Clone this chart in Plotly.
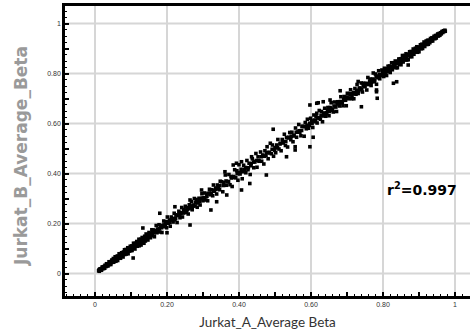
import plotly.graph_objects as go

# ---- data (Jurkat_A vs Jurkat_B average beta) ----
seg_low = [(0.010,0.011),(0.012,0.009),(0.013,0.018),(0.015,0.014),(0.016,0.019),(0.018,0.013),(0.019,0.019),(0.020,0.026),(0.022,0.020),(0.023,0.027),(0.024,0.020),(0.026,0.028),(0.027,0.021),(0.028,0.033),(0.030,0.030),(0.031,0.028),(0.032,0.039),(0.034,0.032),(0.035,0.038),(0.036,0.030),(0.038,0.039),(0.039,0.047),(0.040,0.036),(0.042,0.046),(0.043,0.042),(0.044,0.036),(0.046,0.049),(0.047,0.054),(0.048,0.045),(0.050,0.050),(0.051,0.060),(0.052,0.045),(0.054,0.059),(0.055,0.053),(0.056,0.067),(0.058,0.049),(0.059,0.061),(0.060,0.055),(0.062,0.070),(0.063,0.052),(0.064,0.068),(0.066,0.065),(0.067,0.079),(0.068,0.062),(0.070,0.076),(0.071,0.061),(0.072,0.073),(0.074,0.083),(0.075,0.071),(0.076,0.079),(0.078,0.066),(0.079,0.086),(0.080,0.078),(0.082,0.095),(0.083,0.076),(0.084,0.084),(0.086,0.096),(0.087,0.078),(0.088,0.092),(0.090,0.087),(0.091,0.103),(0.092,0.079),(0.094,0.100),(0.095,0.090),(0.096,0.098),(0.098,0.109),(0.099,0.091),(0.100,0.100),(0.102,0.110),(0.103,0.092),(0.104,0.109),(0.106,0.104),(0.106,0.062),(0.107,0.121),(0.108,0.102),(0.110,0.113),(0.111,0.098),(0.112,0.121),(0.114,0.110),(0.115,0.116),(0.116,0.128),(0.118,0.109),(0.119,0.125),(0.120,0.119),(0.122,0.137),(0.123,0.111),(0.124,0.128),(0.126,0.120),(0.127,0.137),(0.128,0.114),(0.130,0.132),(0.131,0.144),(0.132,0.124),(0.134,0.141),(0.133,0.182),(0.135,0.132),(0.136,0.121),(0.138,0.149),(0.139,0.139),(0.140,0.130),(0.142,0.158),(0.143,0.148),(0.144,0.137),(0.146,0.155),(0.147,0.134),(0.148,0.150),(0.150,0.164),(0.151,0.146),(0.152,0.160),(0.154,0.143),(0.155,0.159),(0.156,0.154),(0.158,0.175),(0.159,0.151),(0.160,0.166),
           (0.011,0.014),(0.017,0.016),(0.021,0.023),(0.025,0.024),(0.029,0.031),(0.033,0.034),(0.037,0.036),(0.041,0.043),(0.045,0.044),(0.049,0.052),(0.053,0.054),(0.057,0.056),(0.061,0.063),(0.065,0.064),(0.069,0.071),(0.073,0.074),(0.077,0.076),(0.081,0.083),(0.085,0.086),(0.089,0.089),(0.093,0.095),(0.097,0.096),(0.101,0.104),(0.105,0.105),(0.109,0.108),(0.113,0.116),(0.117,0.117),(0.121,0.124),(0.125,0.125),(0.129,0.127),(0.133,0.136),(0.137,0.138),(0.141,0.143),(0.145,0.144),(0.149,0.152),(0.153,0.153),(0.157,0.160)]

seg_lowmid = [(0.162,0.174),(0.165,0.147),(0.167,0.172),(0.170,0.192),(0.172,0.163),(0.175,0.174),(0.178,0.195),(0.180,0.166),(0.180,0.241),(0.183,0.191),(0.186,0.164),(0.188,0.191),(0.191,0.210),(0.193,0.187),(0.196,0.207),(0.199,0.183),(0.200,0.163),(0.201,0.226),(0.204,0.201),(0.207,0.214),(0.209,0.189),(0.212,0.226),(0.214,0.214),(0.217,0.206),(0.220,0.241),(0.222,0.267),(0.222,0.215),(0.225,0.234),(0.228,0.204),(0.230,0.234),(0.233,0.249),(0.236,0.223),(0.238,0.240),(0.241,0.264),(0.243,0.226),(0.246,0.256),(0.249,0.244),(0.251,0.269),(0.254,0.244),(0.257,0.263),(0.259,0.238),(0.262,0.275),(0.264,0.194),(0.264,0.294),(0.265,0.263),(0.268,0.288),(0.270,0.255),(0.273,0.274),(0.276,0.300),(0.278,0.270),(0.281,0.296),(0.284,0.265),(0.286,0.282),(0.289,0.301),(0.292,0.274),(0.294,0.299),(0.296,0.334),(0.297,0.319),(0.300,0.291),(0.302,0.301),(0.305,0.322),(0.308,0.294),(0.310,0.318),(0.313,0.291),(0.316,0.319),(0.318,0.337),(0.321,0.315),(0.322,0.254),(0.324,0.335),(0.327,0.311),(0.329,0.354),(0.332,0.329),(0.335,0.342),(0.338,0.287),(0.338,0.318),(0.340,0.354),(0.343,0.343),(0.346,0.335),(0.348,0.369),
              (0.164,0.162),(0.169,0.171),(0.174,0.178),(0.179,0.180),(0.185,0.183),(0.190,0.194),(0.195,0.196),(0.203,0.207),(0.208,0.205),(0.213,0.218),(0.219,0.220),(0.224,0.221),(0.229,0.232),(0.235,0.236),(0.240,0.243),(0.245,0.242),(0.250,0.254),(0.256,0.255),(0.261,0.259),(0.267,0.270),(0.272,0.269),(0.279,0.283),(0.285,0.286),(0.291,0.289),(0.298,0.302),(0.304,0.303),(0.311,0.309),(0.317,0.322),(0.323,0.321),(0.330,0.333),(0.336,0.337),(0.342,0.340),(0.347,0.351)]

seg_mid = [(0.352,0.367),(0.355,0.327),(0.358,0.364),(0.361,0.407),(0.362,0.394),(0.365,0.353),(0.366,0.314),(0.369,0.367),(0.372,0.396),(0.375,0.355),(0.378,0.388),(0.381,0.348),(0.384,0.434),(0.385,0.388),(0.388,0.415),(0.391,0.383),(0.393,0.441),(0.394,0.411),(0.397,0.373),(0.400,0.435),(0.403,0.398),(0.406,0.417),(0.407,0.447),(0.407,0.334),(0.409,0.379),(0.413,0.433),(0.416,0.416),(0.419,0.403),(0.422,0.452),(0.425,0.415),(0.428,0.441),(0.430,0.360),(0.431,0.396),(0.434,0.439),(0.435,0.467),(0.437,0.459),(0.441,0.423),(0.444,0.446),(0.447,0.480),(0.450,0.425),(0.453,0.467),(0.456,0.449),(0.460,0.486),(0.463,0.449),(0.466,0.474),(0.469,0.438),(0.472,0.491),(0.476,0.394),(0.475,0.472),(0.478,0.507),(0.481,0.459),(0.484,0.485),(0.487,0.521),(0.490,0.479),(0.493,0.514),(0.495,0.577),(0.496,0.469),(0.499,0.493),
           (0.502,0.483),(0.505,0.514),(0.508,0.536),(0.511,0.498),(0.514,0.518),(0.517,0.491),(0.520,0.536),(0.523,0.522),(0.526,0.557),(0.529,0.512),(0.532,0.467),(0.532,0.544),(0.535,0.506),(0.538,0.545),(0.541,0.564),(0.544,0.535),(0.547,0.565),(0.550,0.527),(0.553,0.553),(0.556,0.494),(0.556,0.507),(0.557,0.582),(0.560,0.545),(0.563,0.566),(0.566,0.596),(0.569,0.565),(0.572,0.551),(0.575,0.589),(0.578,0.588),(0.581,0.549),(0.584,0.604),(0.587,0.579),(0.590,0.617),(0.593,0.581),(0.596,0.601),(0.597,0.674),(0.597,0.507),(0.599,0.621),
           (0.357,0.352),(0.364,0.370),(0.371,0.368),(0.379,0.382),(0.387,0.384),(0.395,0.399),(0.402,0.404),(0.410,0.407),(0.418,0.424),(0.426,0.423),(0.433,0.431),(0.440,0.446),(0.448,0.452),(0.455,0.452),(0.462,0.467),(0.470,0.469),(0.477,0.484),(0.485,0.482),(0.492,0.497),(0.500,0.504),(0.507,0.503),(0.515,0.521),(0.522,0.525),(0.530,0.528),(0.537,0.542),(0.545,0.549),(0.552,0.550),(0.559,0.565),(0.567,0.571),(0.574,0.572),(0.582,0.588),(0.589,0.593),(0.595,0.592)]

seg_highmid = [(0.602,0.610),(0.605,0.584),(0.606,0.545),(0.608,0.634),(0.611,0.607),(0.614,0.628),(0.616,0.681),(0.616,0.641),(0.617,0.602),(0.620,0.622),(0.620,0.683),(0.623,0.652),(0.626,0.617),(0.629,0.648),(0.632,0.607),(0.634,0.687),(0.635,0.640),(0.638,0.661),(0.641,0.629),(0.644,0.643),(0.647,0.664),(0.650,0.631),(0.653,0.694),(0.653,0.664),(0.656,0.683),(0.659,0.652),(0.662,0.646),(0.665,0.686),(0.668,0.668),(0.671,0.648),(0.674,0.687),(0.677,0.683),(0.680,0.670),(0.681,0.731),(0.683,0.707),(0.686,0.683),(0.689,0.671),(0.692,0.708),(0.695,0.704),(0.698,0.671),(0.701,0.721),(0.704,0.699),(0.707,0.719),(0.710,0.735),(0.713,0.699),(0.716,0.719),(0.719,0.699),(0.722,0.740),(0.725,0.717),(0.728,0.756),(0.731,0.768),(0.731,0.720),(0.734,0.741),(0.737,0.735),(0.740,0.667),(0.740,0.762),(0.743,0.726),(0.746,0.761),(0.749,0.750),(0.752,0.760),(0.755,0.734),(0.758,0.784),(0.761,0.757),(0.764,0.778),(0.767,0.752),(0.770,0.772),(0.773,0.802),(0.776,0.767),(0.779,0.798),(0.782,0.734),(0.782,0.727),(0.784,0.701),(0.782,0.757),(0.785,0.790),(0.788,0.811),(0.791,0.779),(0.794,0.793),(0.797,0.814),
               (0.603,0.600),(0.609,0.614),(0.613,0.611),(0.619,0.624),(0.624,0.621),(0.628,0.633),(0.633,0.630),(0.637,0.642),(0.642,0.639),(0.646,0.652),(0.651,0.648),(0.655,0.661),(0.660,0.657),(0.664,0.670),(0.669,0.666),(0.673,0.679),(0.678,0.675),(0.682,0.688),(0.687,0.684),(0.691,0.697),(0.696,0.693),(0.700,0.706),(0.705,0.702),(0.709,0.715),(0.714,0.711),(0.718,0.724),(0.723,0.720),(0.727,0.733),(0.732,0.729),(0.736,0.742),(0.741,0.738),(0.745,0.751),(0.750,0.747),(0.754,0.760),(0.759,0.756),(0.763,0.769),(0.768,0.765),(0.772,0.778),(0.777,0.774),(0.781,0.787),(0.786,0.783),(0.790,0.796),(0.795,0.792),(0.799,0.805)]

seg_high = [(0.800,0.806),(0.802,0.788),(0.804,0.821),(0.806,0.803),(0.808,0.818),(0.810,0.792),(0.812,0.813),(0.814,0.829),(0.816,0.808),(0.818,0.830),(0.820,0.804),(0.822,0.826),(0.824,0.843),(0.826,0.815),(0.828,0.827),(0.829,0.761),(0.830,0.843),(0.832,0.826),(0.834,0.850),(0.836,0.823),(0.838,0.767),(0.838,0.846),(0.840,0.823),(0.842,0.844),(0.844,0.858),(0.846,0.837),(0.848,0.859),(0.850,0.835),(0.852,0.857),(0.854,0.872),(0.856,0.846),(0.858,0.858),(0.860,0.872),(0.862,0.855),(0.864,0.879),(0.866,0.854),(0.868,0.875),(0.870,0.834),(0.870,0.855),(0.872,0.875),(0.874,0.887),(0.876,0.868),(0.878,0.888),(0.880,0.867),(0.882,0.886),(0.884,0.898),(0.886,0.877),(0.888,0.887),(0.890,0.901),(0.892,0.886),(0.894,0.907),(0.896,0.885),(0.898,0.904),(0.900,0.887),(0.902,0.904),(0.904,0.915),(0.906,0.899),(0.908,0.917),(0.910,0.900),(0.912,0.916),(0.914,0.926),(0.916,0.908),(0.918,0.917),(0.920,0.930),(0.922,0.916),(0.924,0.933),(0.926,0.917),(0.928,0.933),(0.930,0.923),(0.932,0.940),(0.934,0.930),(0.936,0.943),(0.938,0.930),(0.940,0.943),(0.942,0.949),(0.944,0.939),(0.946,0.952),(0.948,0.942),(0.950,0.952),(0.952,0.958),(0.954,0.950),(0.956,0.960),(0.958,0.953),(0.960,0.963),(0.962,0.959),(0.964,0.968),(0.966,0.964),(0.968,0.971),(0.970,0.969),(0.972,0.973),(0.973,0.969),
            (0.801,0.800),(0.805,0.809),(0.809,0.807),(0.813,0.818),(0.817,0.815),(0.821,0.825),(0.825,0.823),(0.829,0.833),(0.833,0.831),(0.837,0.841),(0.841,0.839),(0.845,0.849),(0.849,0.847),(0.853,0.857),(0.857,0.855),(0.861,0.865),(0.865,0.863),(0.869,0.873),(0.873,0.871),(0.877,0.881),(0.881,0.879),(0.885,0.889),(0.889,0.887),(0.893,0.897),(0.897,0.895),(0.901,0.905),(0.905,0.903),(0.909,0.912),(0.913,0.911),(0.917,0.920),(0.921,0.919),(0.925,0.928),(0.929,0.927),(0.933,0.936),(0.937,0.935),(0.941,0.944),(0.945,0.943),(0.949,0.951),(0.953,0.952),(0.957,0.959),(0.961,0.960),(0.965,0.966),(0.969,0.968)]

tick_vals = [0, 0.2, 0.4, 0.6, 0.8, 1]
tick_text = ["0", "0.20", "0.40", "0.60", "0.80", "1"]
mid_tick_vals = [0.1, 0.3, 0.5, 0.7, 0.9]
x_title = "Jurkat_A_Average Beta"
y_title = "Jurkat_B_Average_Beta"
r2_label = "r<sup>2</sup>=0.997"

x_range = [-0.0833, 1.0417]
y_range = [-0.09, 1.07]

points = seg_low + seg_lowmid + seg_mid + seg_highmid + seg_high
jurkat_a = [p[0] for p in points]
jurkat_b = [p[1] for p in points]

fig = go.Figure()
fig.add_trace(go.Scatter(
    x=jurkat_a, y=jurkat_b, mode="markers",
    marker=dict(symbol="square", size=3.6, color="black", line=dict(width=0)),
    showlegend=False, hoverinfo="skip"))
# empty trace that activates the overlay axes carrying the fine ticks
fig.add_trace(go.Scatter(x=[], y=[], xaxis="x2", yaxis="y2", showlegend=False, hoverinfo="skip"))

tick_font = dict(family="Liberation Sans, Arial, sans-serif", size=7, color="#333")

# grid lines only at labelled ticks
for v in tick_vals:
    fig.add_shape(type="line", xref="x", yref="paper", x0=v, x1=v, y0=0, y1=1,
                  line=dict(color="#d6d6d6", width=2), layer="below")
    fig.add_shape(type="line", xref="paper", yref="y", x0=0, x1=1, y0=v, y1=v,
                  line=dict(color="#d6d6d6", width=2), layer="below")

fine_axis = dict(showgrid=False, zeroline=False, showline=False, showticklabels=False,
                 ticks="inside", ticklen=2, tickwidth=1.2, tickcolor="black", automargin=False)

fig.update_layout(
    width=475, height=335,
    margin=dict(l=65, r=5, t=6, b=39),
    paper_bgcolor="white", plot_bgcolor="white",
    xaxis=dict(
        range=x_range, showgrid=False, zeroline=False, automargin=False,
        showline=True, linecolor="black", linewidth=2.5, mirror=True,
        tickmode="array", tickvals=tick_vals, ticktext=tick_text,
        ticks="inside", ticklen=4.5, tickwidth=1.5, tickcolor="black",
        minor=dict(tickvals=mid_tick_vals, ticks="inside", ticklen=4, tickwidth=1.5,
                   tickcolor="black", showgrid=False),
        tickfont=tick_font,
        title=dict(text=x_title, standoff=11,
                   font=dict(family="Lato, 'Open Sans', sans-serif", size=13.5, color="#333")),
    ),
    yaxis=dict(
        range=y_range, showgrid=False, zeroline=False, automargin=False,
        showline=True, linecolor="black", linewidth=2.5,
        tickmode="array", tickvals=tick_vals, ticktext=tick_text,
        ticks="inside", ticklen=4.5, tickwidth=1.5, tickcolor="black",
        minor=dict(tickvals=mid_tick_vals, ticks="inside", ticklen=4, tickwidth=1.5,
                   tickcolor="black", showgrid=False),
        tickfont=tick_font,
    ),
    xaxis2=dict(range=x_range, overlaying="x", anchor="y2", side="bottom",
                tickmode="linear", tick0=0, dtick=0.02, **fine_axis),
    yaxis2=dict(range=y_range, overlaying="y", anchor="x2", side="left",
                tickmode="linear", tick0=0, dtick=0.025, **fine_axis),
    annotations=[
        dict(x=0.908, y=0.338, xref="x", yref="y", text="<b>" + r2_label + "</b>",
             showarrow=False,
             font=dict(family="DejaVu Sans, sans-serif", size=14, color="black")),
        dict(x=-0.1086, y=0.4966, xref="paper", yref="paper", text="<b>" + y_title + "</b>",
             textangle=-90, showarrow=False, xanchor="center", yanchor="middle", yshift=-4,
             font=dict(family="DejaVu Sans, sans-serif", size=17, color="#9a9a9a")),
    ],
)

fig.write_html("out.html", config={"displayModeBar": False},
               post_script="document.body.style.margin='0';")
